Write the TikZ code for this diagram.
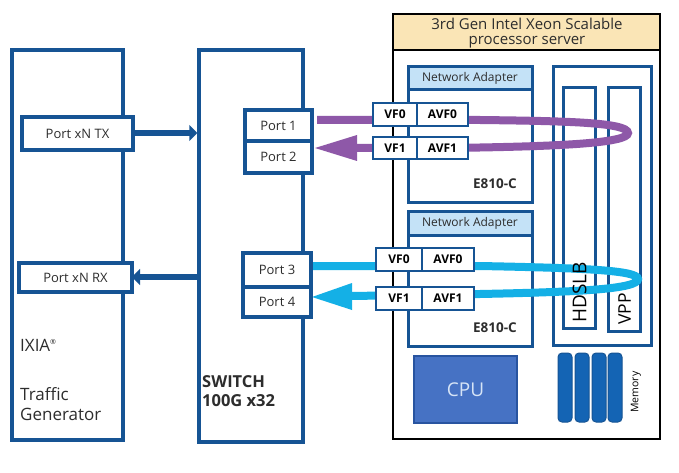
\documentclass[tikz,border=0pt]{standalone}
\usepackage{fontspec}
\setmainfont{Open Sans}
\usetikzlibrary{arrows.meta}
\definecolor{nblue}{RGB}{22,84,148}
\definecolor{hdrylw}{RGB}{250,229,182}
\definecolor{hdrblue}{RGB}{196,226,247}
\definecolor{loopvio}{RGB}{142,88,168}
\definecolor{loopcyan}{RGB}{20,176,230}
\definecolor{cpufill}{RGB}{70,114,196}
\definecolor{cpuedge}{RGB}{40,84,160}
\definecolor{cputext}{RGB}{214,228,246}
\definecolor{memfill}{RGB}{20,100,180}
\definecolor{txtgray}{RGB}{45,45,45}
\newcommand\mybox[7]{\node[#2,minimum width={(#5-#3)*1pt},minimum height={(#6-#4)*1pt}] (#1) at ({(#3+#5)/2},{(#4+#6)/2}) {#7};}
\tikzset{
  bbox/.style={draw=nblue,line width=3.5pt,fill=white,inner sep=0pt,text=txtgray},
  sbox/.style={draw=nblue,line width=3pt,fill=white,inner sep=0pt,text=txtgray},
  hdr/.style={draw=nblue,line width=3pt,fill=hdrblue,inner sep=0pt,text=txtgray,font=\fontsize{12}{13}\selectfont},
  vfbox/.style={draw=nblue,line width=2.8pt,fill=white,inner sep=0pt,text=black,font=\fontsize{12}{13}\selectfont\bfseries},
  portbox/.style={draw=nblue,line width=3.2pt,fill=white,inner sep=0pt,text=txtgray,font=\fontsize{13}{14}\selectfont},
  lbl/.style={inner sep=0pt,text=txtgray},
  biglbl/.style={inner sep=0pt,text=txtgray,anchor=base west,font=\fontsize{17}{18}\selectfont},
  thickarrow/.style={draw=nblue,line width=6pt,-{Triangle[length=8pt,width=16pt]}},
  membar/.style={draw=nblue,line width=1pt,fill=memfill,rounded corners=4pt,inner sep=0pt},
}
\begin{document}
\begin{tikzpicture}[x=1pt,y=-1pt]
\useasboundingbox (0,0) rectangle (679,473);
\fill[white] (0,0) rectangle (679,473);
% left boxes
\mybox{ixia}{bbox}{12}{50}{123}{440}{}
\mybox{sw}{bbox}{199}{50}{303}{442}{}
\draw[thickarrow] (133,133) coordinate (txe) -- (txe -| sw.west);
\draw[thickarrow] (199,277) coordinate (rxs) -- (rxs -| 132,0);
\mybox{tx}{portbox}{22}{117}{133}{150}{Port xN TX}
\mybox{rx}{portbox}{19}{263}{132}{292}{Port xN RX}
\node[biglbl] (ixl) at (20,351) {IXIA\textsuperscript{\fontsize{7}{7}\selectfont ®}};
\node[biglbl] (tgl1) at (20,400) {Traffic};
\node[biglbl] (tgl2) at (20,420) {Generator};
\node[biglbl,font=\fontsize{16.5}{18}\selectfont\bfseries] (swl1) at (202,387) {SWITCH};
\node[biglbl,font=\fontsize{16.5}{18}\selectfont\bfseries] (swl2) at (202,406) {100G x32};
% server
\mybox{srv}{draw=black,line width=2.6pt,fill=white,inner sep=0pt}{393}{14}{660}{439}{}
\mybox{srvh}{draw=black,line width=2.6pt,fill=hdrylw,inner sep=0pt}{393}{14}{660}{50}{}
\node[lbl,anchor=base,font=\fontsize{15}{16}\selectfont] (st1) at (527,30) {3rd Gen Intel Xeon Scalable};
\node[lbl,anchor=base,font=\fontsize{15}{16}\selectfont] (st2) at (527,44.5) {processor server};
% network adapters
\mybox{na1}{sbox}{408}{67}{532}{202}{}
\mybox{na1h}{hdr}{408}{67}{532}{90}{Network Adapter}
\mybox{na2}{sbox}{408}{211}{532}{346}{}
\mybox{na2h}{hdr}{408}{211}{532}{235}{Network Adapter}
\node[lbl,anchor=base east,font=\fontsize{13.5}{14}\selectfont\bfseries] (e1) at (517,188) {E810-C};
\node[lbl,anchor=base east,font=\fontsize{13.5}{14}\selectfont\bfseries] (e2) at (517,332) {E810-C};
% container with HDSLB and VPP
\mybox{cont}{sbox}{553}{67}{651}{345}{}
\mybox{hd}{sbox}{563}{88}{595}{328}{}
\mybox{vpp}{sbox}{608}{88}{640}{331}{}
% CPU and memory
\mybox{cpu}{draw=cpuedge,line width=2.5pt,fill=cpufill,inner sep=0pt,text=cputext,font=\fontsize{19}{20}\selectfont}{414}{356}{517}{423}{CPU}
\mybox{m1}{membar}{558}{353}{572}{422}{}
\mybox{m2}{membar}{575}{353}{589}{422}{}
\mybox{m3}{membar}{592}{353}{606}{422}{}
\mybox{m4}{membar}{608}{353}{622}{422}{}
\node[lbl,rotate=90,text=black,font=\fontsize{10.5}{12}\selectfont] (meml) at (636,392) {Memory};
% loops
\draw[loopvio,line width=8pt] (317,120) -- (480,120) .. controls (560,121) and (628,122) .. (628,133) .. controls (628,143) and (560,146) .. (480,147.5) -- (356,148);
\fill[loopvio] (357,135) -- (315,148) -- (357,161) -- cycle;
\draw[loopcyan,line width=8pt] (313,266) -- (480,266) .. controls (580,268) and (638,270) .. (638,279) .. controls (638,289) and (580,292) .. (480,294) -- (351,296);
\fill[loopcyan] (352,283) -- (312,297) -- (352,310) -- cycle;
\node[lbl,rotate=90,anchor=west,text=black,font=\fontsize{19}{20}\selectfont] (hdl) at (579.5,323) {HDSLB};
\node[lbl,rotate=90,anchor=west,text=black,font=\fontsize{17.5}{18}\selectfont] (vppl) at (624.5,325) {VPP};
% VF boxes
\mybox{vf0a}{vfbox}{373}{103}{417}{126}{VF0}
\mybox{avf0a}{vfbox}{417}{103}{468}{126}{AVF0}
\mybox{vf1a}{vfbox}{373}{137}{417}{159}{VF1}
\mybox{avf1a}{vfbox}{417}{137}{468}{159}{AVF1}
\mybox{vf0b}{vfbox}{376}{248}{422}{271}{VF0}
\mybox{avf0b}{vfbox}{422}{248}{474}{271}{AVF0}
\mybox{vf1b}{vfbox}{376}{287}{422}{310}{VF1}
\mybox{avf1b}{vfbox}{422}{287}{474}{310}{AVF1}
% switch ports
\mybox{p1}{portbox}{245}{110}{312}{141}{Port 1}
\mybox{p2}{portbox}{245}{141}{312}{173}{Port 2}
\mybox{p3}{portbox}{243}{253}{311}{287}{Port 3}
\mybox{p4}{portbox}{243}{287}{311}{317}{Port 4}
\end{tikzpicture}
\end{document}
